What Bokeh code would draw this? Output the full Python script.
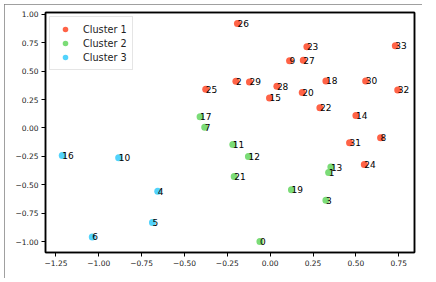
from bokeh.plotting import figure
from bokeh.models import ColumnDataSource, FixedTicker, Range1d, LinearAxis, InlineStyleSheet
from bokeh.embed import file_html
from bokeh.resources import INLINE
from bokeh.core.properties import value

# ---- data ----
point_ids = list(range(34))
xs = [-0.060, 0.341, -0.200, 0.325, -0.656, -0.687, -1.038, -0.382, 0.644, 0.113,
      -0.884, -0.218, -0.127, 0.354, 0.500, -0.004, -1.213, -0.409, 0.325, 0.124,
      0.187, -0.210, 0.290, 0.214, 0.549, -0.376, -0.191, 0.193, 0.039, -0.121,
      0.557, 0.463, 0.744, 0.730]
ys = [-0.997, -0.390, 0.410, -0.635, -0.556, -0.830, -0.956, 0.007, -0.086, 0.591,
      -0.261, -0.144, -0.250, -0.343, 0.109, 0.264, -0.241, 0.098, 0.413, -0.541,
      0.311, -0.425, 0.177, 0.714, -0.320, 0.340, 0.918, 0.594, 0.366, 0.404,
      0.413, -0.130, 0.334, 0.722]
clusters = [2, 2, 1, 2, 3, 3, 3, 2, 1, 1,
            3, 2, 2, 2, 1, 1, 3, 2, 1, 2,
            1, 2, 1, 1, 1, 1, 1, 1, 1, 1,
            1, 1, 1, 1]
cluster_names = ["Cluster 1", "Cluster 2", "Cluster 3"]
cluster_colors = ["#ff6347", "#7bdc77", "#52d3fc"]
x_ticks = [-1.25, -1.0, -0.75, -0.5, -0.25, 0.0, 0.25, 0.5, 0.75]
y_ticks = [-1.0, -0.75, -0.5, -0.25, 0.0, 0.25, 0.5, 0.75, 1.0]


def fmt(t):
    s = "%.2f" % abs(t)
    return ("\u2212" + s) if t < 0 else s


xmin, xmax = min(xs), max(xs)
ymin, ymax = min(ys), max(ys)
xpad = 0.05 * (xmax - xmin)
ypad = 0.05 * (ymax - ymin)

sheet = InlineStyleSheet(css=":host { outline: 1px solid #808080; outline-offset: -1px; }")

p = figure(width=418, height=274, output_backend="svg", toolbar_location=None,
           x_range=Range1d(xmin - xpad, xmax + xpad),
           y_range=Range1d(ymin - ypad, ymax + ypad),
           min_border_left=41, min_border_right=8, min_border_top=8, min_border_bottom=26,
           margin=(4, 0, 0, 4), stylesheets=[sheet])
p.grid.visible = False
p.outline_line_color = "black"
p.outline_line_width = 1.5
p.background_fill_color = "white"
p.border_fill_color = "white"

for ci, (name, color) in enumerate(zip(cluster_names, cluster_colors), start=1):
    idx = [i for i, c in enumerate(clusters) if c == ci]
    src = ColumnDataSource(dict(x=[xs[i] for i in idx], y=[ys[i] for i in idx]))
    p.scatter("x", "y", source=src, size=7, fill_color=color, line_color=None,
              legend_label=name)

lab_src = ColumnDataSource(dict(x=xs, y=ys, t=[str(i) for i in point_ids]))
p.text("x", "y", text="t", source=lab_src, text_font=value("DejaVu Sans"),
       text_font_size="9px", text_color="black", text_align="left",
       text_baseline="alphabetic")

p.xaxis.ticker = FixedTicker(ticks=x_ticks)
p.yaxis.ticker = FixedTicker(ticks=y_ticks)
p.xaxis.major_label_overrides = {t: fmt(t) for t in x_ticks}
p.yaxis.major_label_overrides = {t: fmt(t) for t in y_ticks}
for ax in (p.xaxis, p.yaxis):
    ax.axis_line_color = "black"
    ax.axis_line_width = 1.5
    ax.major_tick_in = 0
    ax.major_tick_out = 4
    ax.major_tick_line_color = "black"
    ax.major_tick_line_width = 1
    ax.minor_tick_line_color = None
    ax.major_label_text_font = "DejaVu Sans"
    ax.major_label_text_font_size = "7.5px"
    ax.major_label_text_color = "#222222"
    ax.major_label_standoff = 3

for side in ("right", "above"):
    ax = LinearAxis(ticker=FixedTicker(ticks=[]), axis_line_color="black",
                    axis_line_width=1.5, major_tick_line_color=None,
                    minor_tick_line_color=None, major_label_text_font_size="0px",
                    major_label_standoff=0, major_tick_out=0, major_tick_in=0)
    p.add_layout(ax, side)

p.legend.location = "top_left"
p.legend.margin = 4
p.legend.padding = 5
p.legend.spacing = 0
p.legend.glyph_width = 20
p.legend.glyph_height = 14
p.legend.label_standoff = 8
p.legend.label_text_font = "DejaVu Sans"
p.legend.label_text_font_size = "9.7px"
p.legend.label_text_color = "#222222"
p.legend.border_line_color = "#cccccc"
p.legend.border_line_width = 1
p.legend.background_fill_alpha = 0.8

open("out.html", "w").write(file_html(p, INLINE))
